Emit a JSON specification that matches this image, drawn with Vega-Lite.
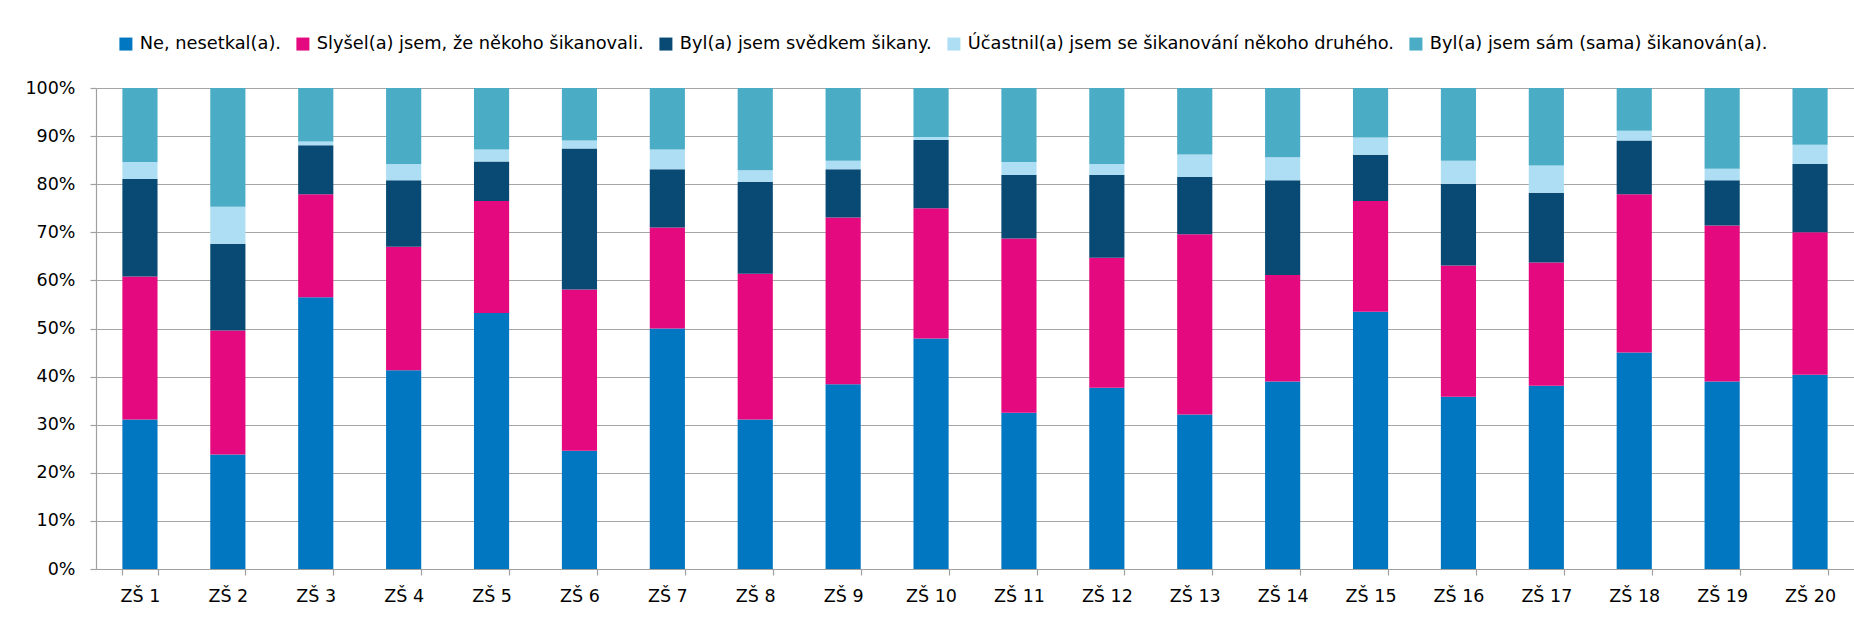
{
  "$schema": "https://vega.github.io/schema/vega-lite/v6.json",
  "width": 1758,
  "height": 481,
  "autosize": {"type": "none"},
  "padding": {"left": 96, "top": 88, "right": 0, "bottom": 50},
  "background": "white",
  "config": {
    "view": {"stroke": null},
    "font": "DejaVu Sans",
    "axis": {"labelFont": "DejaVu Sans", "labelColor": "#000000", "domainColor": "#a0a0a0", "tickColor": "#a0a0a0", "gridColor": "#a6a6a6", "gridWidth": 1.2, "domainWidth": 1.2, "tickWidth": 1.2},
    "legend": {"labelFont": "DejaVu Sans", "labelColor": "#000000"}
  },
  "datasets": {
    "poradi": [
      {"odpoved": "Ne, nesetkal(a).", "poradi": 1},
      {"odpoved": "Slyšel(a) jsem, že někoho šikanovali.", "poradi": 2},
      {"odpoved": "Byl(a) jsem svědkem šikany.", "poradi": 3},
      {"odpoved": "Účastnil(a) jsem se šikanování někoho druhého.", "poradi": 4},
      {"odpoved": "Byl(a) jsem sám (sama) šikanován(a).", "poradi": 5}
    ],
    "zs": [
      {"skola": "ZŠ 1", "odpoved": "Ne, nesetkal(a).", "podil": 31.1},
      {"skola": "ZŠ 1", "odpoved": "Slyšel(a) jsem, že někoho šikanovali.", "podil": 29.7},
      {"skola": "ZŠ 1", "odpoved": "Byl(a) jsem svědkem šikany.", "podil": 20.3},
      {"skola": "ZŠ 1", "odpoved": "Účastnil(a) jsem se šikanování někoho druhého.", "podil": 3.5},
      {"skola": "ZŠ 1", "odpoved": "Byl(a) jsem sám (sama) šikanován(a).", "podil": 15.4},
      {"skola": "ZŠ 2", "odpoved": "Ne, nesetkal(a).", "podil": 23.8},
      {"skola": "ZŠ 2", "odpoved": "Slyšel(a) jsem, že někoho šikanovali.", "podil": 25.8},
      {"skola": "ZŠ 2", "odpoved": "Byl(a) jsem svědkem šikany.", "podil": 18.0},
      {"skola": "ZŠ 2", "odpoved": "Účastnil(a) jsem se šikanování někoho druhého.", "podil": 7.7},
      {"skola": "ZŠ 2", "odpoved": "Byl(a) jsem sám (sama) šikanován(a).", "podil": 24.7},
      {"skola": "ZŠ 3", "odpoved": "Ne, nesetkal(a).", "podil": 56.5},
      {"skola": "ZŠ 3", "odpoved": "Slyšel(a) jsem, že někoho šikanovali.", "podil": 21.4},
      {"skola": "ZŠ 3", "odpoved": "Byl(a) jsem svědkem šikany.", "podil": 10.2},
      {"skola": "ZŠ 3", "odpoved": "Účastnil(a) jsem se šikanování někoho druhého.", "podil": 0.8},
      {"skola": "ZŠ 3", "odpoved": "Byl(a) jsem sám (sama) šikanován(a).", "podil": 11.1},
      {"skola": "ZŠ 4", "odpoved": "Ne, nesetkal(a).", "podil": 41.3},
      {"skola": "ZŠ 4", "odpoved": "Slyšel(a) jsem, že někoho šikanovali.", "podil": 25.7},
      {"skola": "ZŠ 4", "odpoved": "Byl(a) jsem svědkem šikany.", "podil": 13.8},
      {"skola": "ZŠ 4", "odpoved": "Účastnil(a) jsem se šikanování někoho druhého.", "podil": 3.4},
      {"skola": "ZŠ 4", "odpoved": "Byl(a) jsem sám (sama) šikanován(a).", "podil": 15.8},
      {"skola": "ZŠ 5", "odpoved": "Ne, nesetkal(a).", "podil": 53.2},
      {"skola": "ZŠ 5", "odpoved": "Slyšel(a) jsem, že někoho šikanovali.", "podil": 23.3},
      {"skola": "ZŠ 5", "odpoved": "Byl(a) jsem svědkem šikany.", "podil": 8.2},
      {"skola": "ZŠ 5", "odpoved": "Účastnil(a) jsem se šikanování někoho druhého.", "podil": 2.5},
      {"skola": "ZŠ 5", "odpoved": "Byl(a) jsem sám (sama) šikanován(a).", "podil": 12.8},
      {"skola": "ZŠ 6", "odpoved": "Ne, nesetkal(a).", "podil": 24.6},
      {"skola": "ZŠ 6", "odpoved": "Slyšel(a) jsem, že někoho šikanovali.", "podil": 33.5},
      {"skola": "ZŠ 6", "odpoved": "Byl(a) jsem svědkem šikany.", "podil": 29.3},
      {"skola": "ZŠ 6", "odpoved": "Účastnil(a) jsem se šikanování někoho druhého.", "podil": 1.7},
      {"skola": "ZŠ 6", "odpoved": "Byl(a) jsem sám (sama) šikanován(a).", "podil": 10.9},
      {"skola": "ZŠ 7", "odpoved": "Ne, nesetkal(a).", "podil": 50.0},
      {"skola": "ZŠ 7", "odpoved": "Slyšel(a) jsem, že někoho šikanovali.", "podil": 21.0},
      {"skola": "ZŠ 7", "odpoved": "Byl(a) jsem svědkem šikany.", "podil": 12.1},
      {"skola": "ZŠ 7", "odpoved": "Účastnil(a) jsem se šikanování někoho druhého.", "podil": 4.1},
      {"skola": "ZŠ 7", "odpoved": "Byl(a) jsem sám (sama) šikanován(a).", "podil": 12.8},
      {"skola": "ZŠ 8", "odpoved": "Ne, nesetkal(a).", "podil": 31.1},
      {"skola": "ZŠ 8", "odpoved": "Slyšel(a) jsem, že někoho šikanovali.", "podil": 30.3},
      {"skola": "ZŠ 8", "odpoved": "Byl(a) jsem svědkem šikany.", "podil": 19.1},
      {"skola": "ZŠ 8", "odpoved": "Účastnil(a) jsem se šikanování někoho druhého.", "podil": 2.4},
      {"skola": "ZŠ 8", "odpoved": "Byl(a) jsem sám (sama) šikanován(a).", "podil": 17.1},
      {"skola": "ZŠ 9", "odpoved": "Ne, nesetkal(a).", "podil": 38.4},
      {"skola": "ZŠ 9", "odpoved": "Slyšel(a) jsem, že někoho šikanovali.", "podil": 34.7},
      {"skola": "ZŠ 9", "odpoved": "Byl(a) jsem svědkem šikany.", "podil": 10.0},
      {"skola": "ZŠ 9", "odpoved": "Účastnil(a) jsem se šikanování někoho druhého.", "podil": 1.8},
      {"skola": "ZŠ 9", "odpoved": "Byl(a) jsem sám (sama) šikanován(a).", "podil": 15.1},
      {"skola": "ZŠ 10", "odpoved": "Ne, nesetkal(a).", "podil": 47.9},
      {"skola": "ZŠ 10", "odpoved": "Slyšel(a) jsem, že někoho šikanovali.", "podil": 27.1},
      {"skola": "ZŠ 10", "odpoved": "Byl(a) jsem svědkem šikany.", "podil": 14.2},
      {"skola": "ZŠ 10", "odpoved": "Účastnil(a) jsem se šikanování někoho druhého.", "podil": 0.6},
      {"skola": "ZŠ 10", "odpoved": "Byl(a) jsem sám (sama) šikanován(a).", "podil": 10.2},
      {"skola": "ZŠ 11", "odpoved": "Ne, nesetkal(a).", "podil": 32.5},
      {"skola": "ZŠ 11", "odpoved": "Slyšel(a) jsem, že někoho šikanovali.", "podil": 36.2},
      {"skola": "ZŠ 11", "odpoved": "Byl(a) jsem svědkem šikany.", "podil": 13.2},
      {"skola": "ZŠ 11", "odpoved": "Účastnil(a) jsem se šikanování někoho druhého.", "podil": 2.7},
      {"skola": "ZŠ 11", "odpoved": "Byl(a) jsem sám (sama) šikanován(a).", "podil": 15.4},
      {"skola": "ZŠ 12", "odpoved": "Ne, nesetkal(a).", "podil": 37.7},
      {"skola": "ZŠ 12", "odpoved": "Slyšel(a) jsem, že někoho šikanovali.", "podil": 27.0},
      {"skola": "ZŠ 12", "odpoved": "Byl(a) jsem svědkem šikany.", "podil": 17.2},
      {"skola": "ZŠ 12", "odpoved": "Účastnil(a) jsem se šikanování někoho druhého.", "podil": 2.3},
      {"skola": "ZŠ 12", "odpoved": "Byl(a) jsem sám (sama) šikanován(a).", "podil": 15.8},
      {"skola": "ZŠ 13", "odpoved": "Ne, nesetkal(a).", "podil": 32.1},
      {"skola": "ZŠ 13", "odpoved": "Slyšel(a) jsem, že někoho šikanovali.", "podil": 37.5},
      {"skola": "ZŠ 13", "odpoved": "Byl(a) jsem svědkem šikany.", "podil": 11.9},
      {"skola": "ZŠ 13", "odpoved": "Účastnil(a) jsem se šikanování někoho druhého.", "podil": 4.7},
      {"skola": "ZŠ 13", "odpoved": "Byl(a) jsem sám (sama) šikanován(a).", "podil": 13.8},
      {"skola": "ZŠ 14", "odpoved": "Ne, nesetkal(a).", "podil": 39.0},
      {"skola": "ZŠ 14", "odpoved": "Slyšel(a) jsem, že někoho šikanovali.", "podil": 22.1},
      {"skola": "ZŠ 14", "odpoved": "Byl(a) jsem svědkem šikany.", "podil": 19.7},
      {"skola": "ZŠ 14", "odpoved": "Účastnil(a) jsem se šikanování někoho druhého.", "podil": 4.8},
      {"skola": "ZŠ 14", "odpoved": "Byl(a) jsem sám (sama) šikanován(a).", "podil": 14.4},
      {"skola": "ZŠ 15", "odpoved": "Ne, nesetkal(a).", "podil": 53.5},
      {"skola": "ZŠ 15", "odpoved": "Slyšel(a) jsem, že někoho šikanovali.", "podil": 23.0},
      {"skola": "ZŠ 15", "odpoved": "Byl(a) jsem svědkem šikany.", "podil": 9.6},
      {"skola": "ZŠ 15", "odpoved": "Účastnil(a) jsem se šikanování někoho druhého.", "podil": 3.6},
      {"skola": "ZŠ 15", "odpoved": "Byl(a) jsem sám (sama) šikanován(a).", "podil": 10.3},
      {"skola": "ZŠ 16", "odpoved": "Ne, nesetkal(a).", "podil": 35.8},
      {"skola": "ZŠ 16", "odpoved": "Slyšel(a) jsem, že někoho šikanovali.", "podil": 27.3},
      {"skola": "ZŠ 16", "odpoved": "Byl(a) jsem svědkem šikany.", "podil": 17.0},
      {"skola": "ZŠ 16", "odpoved": "Účastnil(a) jsem se šikanování někoho druhého.", "podil": 4.8},
      {"skola": "ZŠ 16", "odpoved": "Byl(a) jsem sám (sama) šikanován(a).", "podil": 15.1},
      {"skola": "ZŠ 17", "odpoved": "Ne, nesetkal(a).", "podil": 38.1},
      {"skola": "ZŠ 17", "odpoved": "Slyšel(a) jsem, že někoho šikanovali.", "podil": 25.6},
      {"skola": "ZŠ 17", "odpoved": "Byl(a) jsem svědkem šikany.", "podil": 14.5},
      {"skola": "ZŠ 17", "odpoved": "Účastnil(a) jsem se šikanování někoho druhého.", "podil": 5.7},
      {"skola": "ZŠ 17", "odpoved": "Byl(a) jsem sám (sama) šikanován(a).", "podil": 16.1},
      {"skola": "ZŠ 18", "odpoved": "Ne, nesetkal(a).", "podil": 45.0},
      {"skola": "ZŠ 18", "odpoved": "Slyšel(a) jsem, že někoho šikanovali.", "podil": 32.9},
      {"skola": "ZŠ 18", "odpoved": "Byl(a) jsem svědkem šikany.", "podil": 11.2},
      {"skola": "ZŠ 18", "odpoved": "Účastnil(a) jsem se šikanování někoho druhého.", "podil": 2.0},
      {"skola": "ZŠ 18", "odpoved": "Byl(a) jsem sám (sama) šikanován(a).", "podil": 8.9},
      {"skola": "ZŠ 19", "odpoved": "Ne, nesetkal(a).", "podil": 39.0},
      {"skola": "ZŠ 19", "odpoved": "Slyšel(a) jsem, že někoho šikanovali.", "podil": 32.4},
      {"skola": "ZŠ 19", "odpoved": "Byl(a) jsem svědkem šikany.", "podil": 9.4},
      {"skola": "ZŠ 19", "odpoved": "Účastnil(a) jsem se šikanování někoho druhého.", "podil": 2.4},
      {"skola": "ZŠ 19", "odpoved": "Byl(a) jsem sám (sama) šikanován(a).", "podil": 16.8},
      {"skola": "ZŠ 20", "odpoved": "Ne, nesetkal(a).", "podil": 40.4},
      {"skola": "ZŠ 20", "odpoved": "Slyšel(a) jsem, že někoho šikanovali.", "podil": 29.6},
      {"skola": "ZŠ 20", "odpoved": "Byl(a) jsem svědkem šikany.", "podil": 14.2},
      {"skola": "ZŠ 20", "odpoved": "Účastnil(a) jsem se šikanování někoho druhého.", "podil": 4.0},
      {"skola": "ZŠ 20", "odpoved": "Byl(a) jsem sám (sama) šikanován(a).", "podil": 11.8}
    ]
  },
  "data": {"name": "zs"},
  "transform": [
    {"lookup": "odpoved", "from": {"data": {"name": "poradi"}, "key": "odpoved", "fields": ["poradi"]}}
  ],
  "mark": {"type": "bar"},
  "encoding": {
    "x": {
      "field": "skola",
      "type": "nominal",
      "sort": null,
      "title": null,
      "scale": {"paddingInner": 0.6, "paddingOuter": 0.3},
      "axis": {"labelAngle": 0, "labelFontSize": 17.5, "labelPadding": 12, "tickBand": "extent", "tickSize": 6, "grid": false}
    },
    "y": {
      "field": "podil",
      "type": "quantitative",
      "stack": "normalize",
      "title": null,
      "scale": {"domain": [0, 1]},
      "axis": {"format": ".0%", "values": [0, 0.1, 0.2, 0.3, 0.4, 0.5, 0.6, 0.7, 0.8, 0.9, 1], "labelFontSize": 17.5, "labelPadding": 15, "tickSize": 6, "grid": true}
    },
    "order": {"field": "poradi", "type": "quantitative", "sort": "ascending"},
    "color": {
      "field": "odpoved",
      "type": "nominal",
      "sort": ["Ne, nesetkal(a).", "Slyšel(a) jsem, že někoho šikanovali.", "Byl(a) jsem svědkem šikany.", "Účastnil(a) jsem se šikanování někoho druhého.", "Byl(a) jsem sám (sama) šikanován(a)."],
      "scale": {
        "domain": ["Ne, nesetkal(a).", "Slyšel(a) jsem, že někoho šikanovali.", "Byl(a) jsem svědkem šikany.", "Účastnil(a) jsem se šikanování někoho druhého.", "Byl(a) jsem sám (sama) šikanován(a)."],
        "range": ["#0077c0", "#e4097f", "#084a74", "#aedef3", "#4bacc6"]
      },
      "legend": {
        "title": null,
        "orient": "none",
        "direction": "horizontal",
        "legendX": 21,
        "legendY": -53,
        "padding": 0,
        "symbolType": "square",
        "symbolSize": 169,
        "symbolStrokeWidth": 0,
        "labelFontSize": 17.8,
        "labelOffset": 5,
        "labelLimit": 800,
        "columnPadding": 13
      }
    }
  }
}
